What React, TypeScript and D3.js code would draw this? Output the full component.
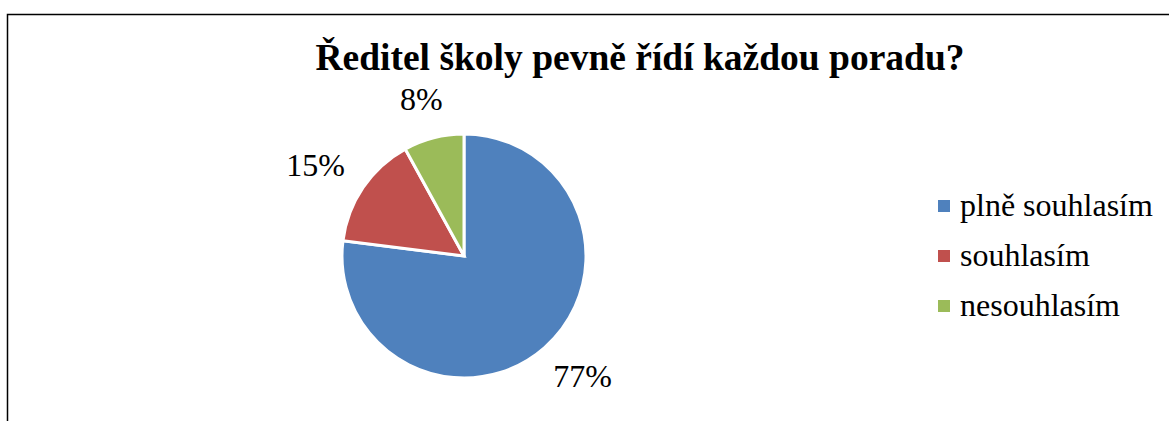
import React from "react";
import * as d3 from "d3";

const title = "Ředitel školy pevně řídí každou poradu?";
const categories = ["plně souhlasím", "souhlasím", "nesouhlasím"];
const values = [77, 15, 8];
const colors = ["#4F81BD", "#C0504D", "#9BBB59"];

const FONT = "'Liberation Serif', 'Times New Roman', serif";

export default function App() {
  const W = 1169, H = 421;
  const cx = 464, cy = 256, r = 122;
  const pie = d3.pie<number>().sort(null).value((d) => d);
  const arcs = pie(values);
  const arc = d3.arc<d3.PieArcDatum<number>>().innerRadius(0).outerRadius(r);
  const total = d3.sum(values);
  const labelFs = 32;
  const gap = 28;
  const legendY = d3.scalePoint<string>().domain(categories).range([206, 306]);
  return (
    <svg width={W} height={H} style={{ position: "absolute", left: 0, top: 0 }}>
      <rect x={0} y={0} width={W} height={H} fill="#fff" />
      <rect x={7.5} y={14.5} width={W + 20} height={H + 20} fill="none" stroke="#000" strokeWidth={1.5} />
      <text x={640} y={70} textAnchor="middle" fontFamily={FONT} fontWeight="bold" fontSize={37.5}>
        {title}
      </text>
      <g transform={`translate(${cx},${cy})`}>
        {arcs.map((a, i) => (
          <path key={i} d={arc(a) || ""} fill={colors[i]} stroke="#fff" strokeWidth={3} strokeLinejoin="miter" />
        ))}
        {arcs.map((a, i) => {
          const label = `${Math.round((values[i] / total) * 100)}%`;
          const m = (a.startAngle + a.endAngle) / 2;
          const sx = Math.sin(m), cy2 = -Math.cos(m);
          const w = ((label.length - 1) * 0.5 + 0.833) * labelFs;
          const h = 0.7 * labelFs;
          const x = sx * (r + gap) + (sx * w) / 2;
          const y = cy2 * (r + gap) + (cy2 * h) / 2;
          return (
            <text key={i} x={x} y={y} dy="0.33em" textAnchor="middle" fontFamily={FONT} fontSize={labelFs}>
              {label}
            </text>
          );
        })}
      </g>
      {categories.map((c, i) => (
        <g key={c} transform={`translate(938,${legendY(c)})`}>
          <rect x={0} y={-6} width={12} height={12} fill={colors[i]} />
          <text x={22} y={0} dy="0.3em" fontFamily={FONT} fontSize={32}>
            {c}
          </text>
        </g>
      ))}
    </svg>
  );
}
